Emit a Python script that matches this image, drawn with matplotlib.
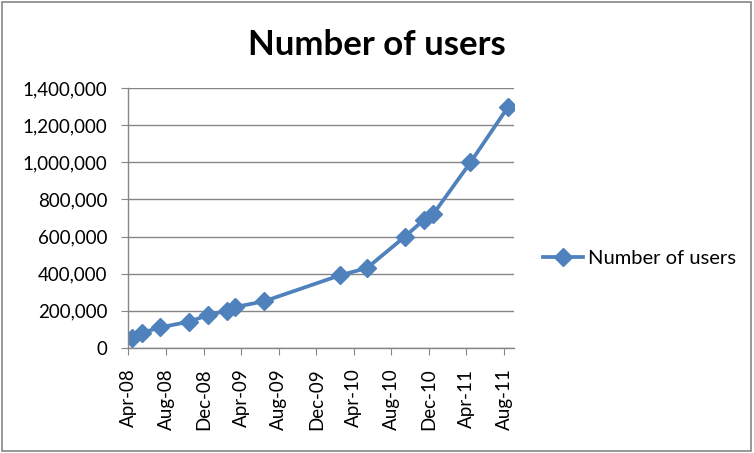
import datetime as dt
import matplotlib
matplotlib.use("Agg")
import matplotlib.pyplot as plt
import matplotlib.dates as mdates
from matplotlib.patches import Rectangle
from matplotlib.ticker import FuncFormatter

# data
dates = ["2008-04-14", "2008-05-14", "2008-07-14", "2008-10-14", "2008-12-14",
         "2009-02-14", "2009-03-14", "2009-06-14", "2010-02-14", "2010-05-14",
         "2010-09-14", "2010-11-14", "2010-12-14", "2011-04-14", "2011-08-14"]
users = [50000, 80000, 110000, 140000, 175000,
         200000, 220000, 250000, 390000, 430000,
         600000, 690000, 720000, 1000000, 1300000]
title = "Number of users"
series_name = "Number of users"

x = [dt.datetime.strptime(d, "%Y-%m-%d") for d in dates]

plt.rcParams['font.family'] = ['Lato', 'DejaVu Sans']
blue = "#4F81BD"
grey = "#868686"

fig = plt.figure(figsize=(7.54, 4.53), dpi=100)
ax = fig.add_axes([128.3 / 754, 1 - 347.7 / 453, (513.7 - 128.3) / 754, (347.7 - 88.3) / 453])

ax.plot(x, users, color=blue, lw=2.7, marker="D", ms=9, label=series_name)

ax.set_ylim(0, 1400000)
ax.set_yticks(range(0, 1400001, 200000))
ax.yaxis.set_major_formatter(FuncFormatter(lambda v, p: f"{int(v):,}"))
ax.set_xlim(dt.datetime(2008, 4, 1), dt.datetime(2011, 9, 1))
ax.xaxis.set_major_locator(mdates.MonthLocator(bymonth=[4, 8, 12]))
ax.xaxis.set_major_formatter(mdates.DateFormatter("%b-%y"))
plt.setp(ax.get_xticklabels(), rotation=90)

ax.grid(axis="y", color=grey, lw=1)
ax.set_axisbelow(True)
for s in ["top", "right"]:
    ax.spines[s].set_visible(False)
for s in ["left", "bottom"]:
    ax.spines[s].set_color(grey)
    ax.spines[s].set_linewidth(1)
ax.tick_params(axis="both", direction="out", length=5, color=grey, labelsize=13.5, pad=10)

fig.text(0.5, 1 - 45 / 453, title, ha="center", va="center", fontsize=25, fontweight="bold")

fig.legend(loc="center left", bbox_to_anchor=(543 / 754, 1 - 258 / 453), frameon=False,
           fontsize=14.5, handlelength=2.0, handletextpad=0.25, borderpad=0, borderaxespad=0)

fig.patches.append(Rectangle((2 / 754, 2 / 453), 749 / 754, 449 / 453, transform=fig.transFigure,
                             fill=False, edgecolor=grey, lw=1.2))

fig.savefig("out.png", dpi=100)
